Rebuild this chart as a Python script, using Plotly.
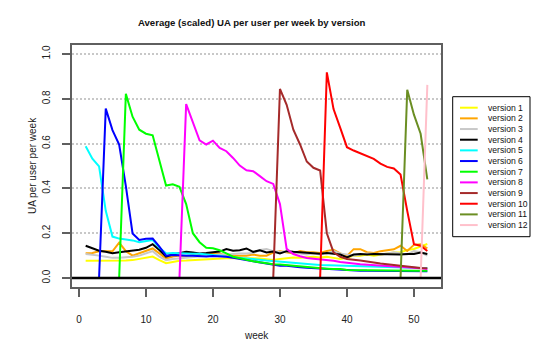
import plotly.graph_objects as go

weeks = list(range(1, 53))

version_names = ["version 1", "version 2", "version 3", "version 4", "version 5", "version 6",
                 "version 7", "version 8", "version 9", "version 10", "version 11", "version 12"]
version_colors = ["#FFFF00", "#FFA500", "#C8C8C8", "#000000", "#00FFFF", "#0000FF",
                  "#00FF00", "#FF00FF", "#A52A2A", "#FF0000", "#6B8E23", "#FFC0CB"]

v1 = [0.077, 0.077, 0.076, 0.077, 0.077, 0.077, 0.078, 0.080, 0.085, 0.090,
      0.096, 0.080, 0.066, 0.072, 0.077, 0.078, 0.080, 0.083, 0.085, 0.087,
      0.087, 0.088, 0.088, 0.089, 0.090, 0.088, 0.087, 0.085, 0.080, 0.085,
      0.090, 0.092, 0.090, 0.093, 0.095, 0.092, 0.095, 0.090, 0.085, 0.090,
      0.100, 0.100, 0.105, 0.100, 0.105, 0.110, 0.114, 0.115, 0.125, 0.130,
      0.140, 0.152]
v2 = [0.111, 0.112, 0.119, 0.118, 0.119, 0.158, 0.120, 0.100, 0.110, 0.120,
      0.132, 0.110, 0.087, 0.096, 0.100, 0.098, 0.100, 0.100, 0.105, 0.110,
      0.110, 0.100, 0.100, 0.100, 0.100, 0.105, 0.100, 0.100, 0.114, 0.120,
      0.115, 0.110, 0.121, 0.115, 0.115, 0.112, 0.121, 0.126, 0.110, 0.099,
      0.129, 0.129, 0.115, 0.112, 0.120, 0.125, 0.128, 0.144, 0.121, 0.148,
      0.151, 0.132]
v3 = [0.107, 0.105, 0.100, 0.095, 0.090, 0.090, 0.092, 0.095, 0.100, 0.110,
      0.120, 0.095, 0.080, 0.085, 0.088, 0.090, 0.092, 0.095, 0.100, 0.100,
      0.105, 0.105, 0.108, 0.110, 0.110, 0.112, 0.125, 0.130, 0.120, 0.115,
      0.120, 0.115, 0.110, 0.105, 0.110, 0.105, 0.110, 0.120, 0.110, 0.105,
      0.100, 0.105, 0.110, 0.108, 0.105, 0.110, 0.115, 0.110, 0.105, 0.120,
      0.115, 0.100]
v4 = [0.144, 0.133, 0.122, 0.117, 0.111, 0.115, 0.119, 0.120, 0.126, 0.135,
      0.151, 0.125, 0.096, 0.105, 0.111, 0.117, 0.114, 0.110, 0.112, 0.114,
      0.118, 0.129, 0.122, 0.124, 0.132, 0.117, 0.124, 0.114, 0.118, 0.110,
      0.120, 0.117, 0.115, 0.112, 0.110, 0.108, 0.112, 0.110, 0.105, 0.092,
      0.105, 0.107, 0.105, 0.107, 0.106, 0.107, 0.105, 0.105, 0.107, 0.107,
      0.114, 0.107]
v5 = [0.588, 0.533, 0.498, 0.300, 0.185, 0.176, 0.172, 0.168, 0.160, 0.165,
      0.170, 0.135, 0.110, 0.112, 0.110, 0.110, 0.108, 0.108, 0.105, 0.105,
      0.100, 0.095, 0.093, 0.090, 0.088, 0.085, 0.082, 0.078, 0.075, 0.072,
      0.070, 0.068, 0.065, 0.063, 0.060, 0.058, 0.057, 0.055, 0.054, 0.053,
      0.052, 0.051, 0.050, 0.049, 0.048, 0.048, 0.047, 0.047, 0.046, 0.046,
      0.045, 0.045]
v6 = [0.0, 0.0, 0.0, 0.756, 0.660, 0.596, 0.410, 0.199, 0.170, 0.175,
      0.176, 0.140, 0.100, 0.103, 0.100, 0.100, 0.100, 0.098, 0.096, 0.098,
      0.098, 0.095, 0.090, 0.085, 0.080, 0.075, 0.068, 0.062, 0.058, 0.055,
      0.055, 0.050, 0.048, 0.046, 0.044, 0.042, 0.040, 0.038, 0.036, 0.034,
      0.033, 0.033, 0.032, 0.032, 0.031, 0.031, 0.031, 0.030, 0.030, 0.030,
      0.030, 0.030]
v7 = [0.0, 0.0, 0.0, 0.0, 0.0, 0.0, 0.822, 0.720, 0.662, 0.644,
      0.637, 0.520, 0.413, 0.418, 0.407, 0.330, 0.200, 0.160, 0.135, 0.133,
      0.124, 0.110, 0.095, 0.088, 0.080, 0.075, 0.070, 0.065, 0.062, 0.060,
      0.057, 0.055, 0.052, 0.048, 0.045, 0.044, 0.042, 0.040, 0.040, 0.036,
      0.036, 0.035, 0.035, 0.035, 0.034, 0.034, 0.034, 0.033, 0.033, 0.033,
      0.032, 0.032]
v8 = [0.0, 0.0, 0.0, 0.0, 0.0, 0.0, 0.0, 0.0, 0.0, 0.0,
      0.0, 0.0, 0.0, 0.0, 0.0, 0.776, 0.692, 0.615, 0.596, 0.613,
      0.581, 0.566, 0.536, 0.502, 0.481, 0.477, 0.455, 0.432, 0.420, 0.330,
      0.130, 0.107, 0.097, 0.089, 0.086, 0.084, 0.082, 0.077, 0.072, 0.067,
      0.065, 0.062, 0.060, 0.058, 0.056, 0.055, 0.054, 0.052, 0.050, 0.047,
      0.044, 0.040]
v9 = [0.0, 0.0, 0.0, 0.0, 0.0, 0.0, 0.0, 0.0, 0.0, 0.0,
      0.0, 0.0, 0.0, 0.0, 0.0, 0.0, 0.0, 0.0, 0.0, 0.0,
      0.0, 0.0, 0.0, 0.0, 0.0, 0.0, 0.0, 0.0, 0.0, 0.844,
      0.773, 0.662, 0.596, 0.520, 0.492, 0.480, 0.200, 0.115, 0.095, 0.085,
      0.080, 0.078, 0.074, 0.068, 0.065, 0.062, 0.058, 0.055, 0.050, 0.047,
      0.045, 0.044]
v10 = [0.0, 0.0, 0.0, 0.0, 0.0, 0.0, 0.0, 0.0, 0.0, 0.0,
       0.0, 0.0, 0.0, 0.0, 0.0, 0.0, 0.0, 0.0, 0.0, 0.0,
       0.0, 0.0, 0.0, 0.0, 0.0, 0.0, 0.0, 0.0, 0.0, 0.0,
       0.0, 0.0, 0.0, 0.0, 0.0, 0.0, 0.918, 0.754, 0.670, 0.584,
       0.569, 0.556, 0.544, 0.532, 0.511, 0.496, 0.489, 0.462, 0.300, 0.151,
       0.144, 0.121]
v11 = [0.0, 0.0, 0.0, 0.0, 0.0, 0.0, 0.0, 0.0, 0.0, 0.0,
       0.0, 0.0, 0.0, 0.0, 0.0, 0.0, 0.0, 0.0, 0.0, 0.0,
       0.0, 0.0, 0.0, 0.0, 0.0, 0.0, 0.0, 0.0, 0.0, 0.0,
       0.0, 0.0, 0.0, 0.0, 0.0, 0.0, 0.0, 0.0, 0.0, 0.0,
       0.0, 0.0, 0.0, 0.0, 0.0, 0.0, 0.0, 0.0, 0.840, 0.729,
       0.644, 0.440]
v12 = [0.0, 0.0, 0.0, 0.0, 0.0, 0.0, 0.0, 0.0, 0.0, 0.0,
       0.0, 0.0, 0.0, 0.0, 0.0, 0.0, 0.0, 0.0, 0.0, 0.0,
       0.0, 0.0, 0.0, 0.0, 0.0, 0.0, 0.0, 0.0, 0.0, 0.0,
       0.0, 0.0, 0.0, 0.0, 0.0, 0.0, 0.0, 0.0, 0.0, 0.0,
       0.0, 0.0, 0.0, 0.0, 0.0, 0.0, 0.0, 0.0, 0.0, 0.0,
       0.0, 0.862]

x_ticks = [0, 10, 20, 30, 40, 50]
y_ticks = [0.0, 0.2, 0.4, 0.6, 0.8, 1.0]
y_tick_labels = ["0.0", "0.2", "0.4", "0.6", "0.8", "1.0"]

series = [v1, v2, v3, v4, v5, v6, v7, v8, v9, v10, v11, v12]

FONT = "Liberation Sans, Arial, Helvetica, sans-serif"
OFF = 8  # the page body has an 8px margin, so the figure starts at (8, 8) on screen
W, H = 540 - OFF, 360 - OFF
# plot region on screen: x 72..441, y 45..287
ML = 72 - OFF
MT = 45 - OFF
MR = W - (441 - OFF)
MB = H - (287 - OFF)
PW, PH = W - ML - MR, H - MT - MB


def px_x(p):
    return (p - OFF - ML) / PW


def px_y(p):
    return (H - MB - (p - OFF)) / PH


fig = go.Figure()
for name, col, vals in zip(version_names, version_colors, series):
    fig.add_trace(go.Scatter(x=weeks, y=vals, mode="lines", name=name,
                             line=dict(color=col, width=2), showlegend=False))

axis_col = "#5f5f5f"
fig.update_layout(
    width=W, height=H,
    margin=dict(l=ML, r=MR, t=MT, b=MB, pad=0, autoexpand=False),
    paper_bgcolor="white", plot_bgcolor="white",
    font=dict(family=FONT, size=10, color="#222222"),
    showlegend=False,
    title=dict(text="<b>Average (scaled) UA per user per week by version</b>",
               font=dict(family=FONT, size=9.6, color="#111111"),
               xref="container", x=(251.7 - OFF) / W, xanchor="center",
               yref="container", y=1 - (23 - OFF) / H, yanchor="middle"),
    xaxis=dict(range=[-1.04, 54.04], tickvals=x_ticks, ticks="outside", ticklen=8,
               tickwidth=1.5, tickcolor=axis_col, showgrid=False, zeroline=False,
               showline=True, mirror=True, linecolor=axis_col, linewidth=2,
               ticklabelstandoff=14, tickfont=dict(size=10, color="#222222")),
    yaxis=dict(range=[-0.04, 1.04], tickvals=y_ticks, ticktext=y_tick_labels,
               ticks="outside", ticklen=8, tickwidth=1.5, tickcolor=axis_col,
               tickangle=-90, showgrid=True, gridcolor="#C8C8C8", gridwidth=1.5,
               griddash="2px,2px", zeroline=False,
               showline=True, mirror=True, linecolor=axis_col, linewidth=2,
               ticklabelstandoff=8, tickfont=dict(size=10, color="#222222")),
)

# zero reference line
fig.add_hline(y=0, line=dict(color="black", width=2.5), layer="above")

annotations = [
    dict(text="week", xref="paper", yref="paper", x=px_x(256.7), y=px_y(335),
         xanchor="center", yanchor="middle", showarrow=False,
         font=dict(family=FONT, size=10, color="#222222")),
    dict(text="UA per user per week", xref="paper", yref="paper", x=px_x(32), y=px_y(166),
         xanchor="center", yanchor="middle", showarrow=False, textangle=-90,
         font=dict(family=FONT, size=10, color="#222222")),
]

# legend (drawn manually so its compact spacing matches)
shapes = [dict(type="rect", xref="paper", yref="paper",
               x0=px_x(452.7), x1=px_x(530), y0=px_y(236.7), y1=px_y(96.7),
               line=dict(color="black", width=1), fillcolor="white", layer="above")]
for i, (name, col) in enumerate(zip(version_names, version_colors)):
    yc = 107.7 + i * 10.67
    shapes.append(dict(type="line", xref="paper", yref="paper",
                       x0=px_x(460), x1=px_x(477.7), y0=px_y(yc), y1=px_y(yc),
                       line=dict(color=col, width=2), layer="above"))
    annotations.append(dict(text=name, xref="paper", yref="paper", x=px_x(485.7), y=px_y(yc),
                            xanchor="left", yanchor="middle", showarrow=False,
                            font=dict(family=FONT, size=8.6, color="#111111")))

for s in shapes:
    fig.add_shape(**s)
fig.update_layout(annotations=annotations)

fig.write_html("out.html")
